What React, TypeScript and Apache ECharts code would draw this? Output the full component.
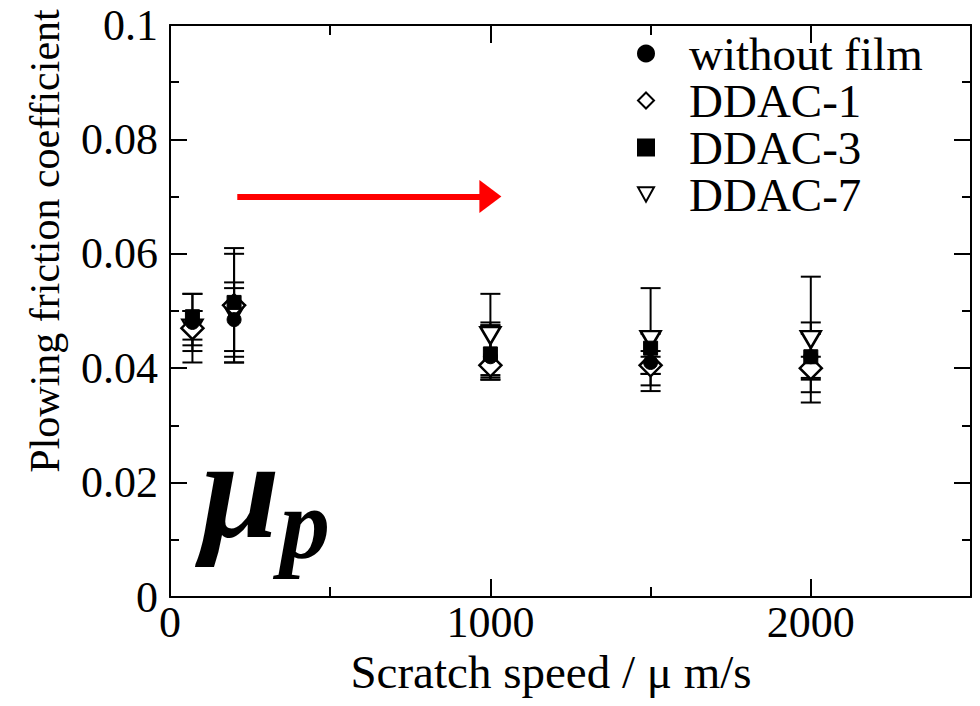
import React, { useEffect, useRef } from "react";
import * as echarts from "echarts";

const FONT = "'Liberation Serif', 'Times New Roman', serif";

// Scratch speed (µm/s)
const speeds = [70, 200, 1000, 1500, 2000];

// without film
const withoutFilm = [0.048, 0.0485, 0.042, 0.041, 0.042];
const withoutFilmLow = [0.043, 0.041, 0.038, 0.039, 0.038];
const withoutFilmHigh = [0.053, 0.055, 0.048, 0.043, 0.046];

// DDAC-1
const ddac1 = [0.047, 0.051, 0.0405, 0.0405, 0.04];
const ddac1Low = [0.044, 0.042, 0.0384, 0.039, 0.0383];
const ddac1High = [0.05, 0.06, 0.0475, 0.042, 0.042];

// DDAC-3
const ddac3 = [0.049, 0.0515, 0.0425, 0.0435, 0.042];
const ddac3Low = [0.045, 0.043, 0.038, 0.036, 0.0358];
const ddac3High = [0.053, 0.061, 0.0475, 0.046, 0.048];

// DDAC-7
const ddac7 = [0.047, 0.0495, 0.0457, 0.045, 0.045];
const ddac7Low = [0.041, 0.041, 0.0388, 0.037, 0.034];
const ddac7High = [0.05, 0.054, 0.053, 0.054, 0.056];

const legendNames = ["without film", "DDAC-1", "DDAC-3", "DDAC-7"];

// red arrow annotation (data coords)
const arrowStart = 210;
const arrowEnd = 1000;
const arrowY = 0.07;

const DOWN_TRIANGLE = "path://M0,0L20,0L10,18Z";

const pts = (v: number[]) => speeds.map((x, i) => [x, v[i]]);
const errs = (lo: number[], hi: number[]) => speeds.map((x, i) => [x, lo[i], hi[i]]);

const errSeries = (name: string, lo: number[], hi: number[]) => ({
  type: "custom",
  name,
  data: errs(lo, hi),
  encode: { x: 0, y: [1, 2] },
  z: 1,
  silent: true,
  renderItem: (_p: any, api: any) => {
    const x = api.value(0);
    const a = api.coord([x, api.value(2)]);
    const b = api.coord([x, api.value(1)]);
    const w = 10;
    const st = { stroke: "#000", lineWidth: 2 };
    return {
      type: "group",
      children: [
        { type: "line", shape: { x1: a[0], y1: a[1], x2: b[0], y2: b[1] }, style: st },
        { type: "line", shape: { x1: a[0] - w, y1: a[1], x2: a[0] + w, y2: a[1] }, style: st },
        { type: "line", shape: { x1: b[0] - w, y1: b[1], x2: b[0] + w, y2: b[1] }, style: st },
      ],
    };
  },
});

const xBase = (position: string, interval: number, len: number, labels: boolean, showLine: boolean) => ({
  type: "value",
  gridIndex: 0,
  position,
  min: 0,
  max: 2500,
  interval,
  axisLine: { show: showLine, onZero: false, lineStyle: { color: "#000", width: 2 } },
  axisTick: { show: true, inside: true, length: len, lineStyle: { color: "#000", width: 2 } },
  axisLabel: {
    show: labels,
    color: "#000",
    fontFamily: FONT,
    fontSize: 44,
    margin: 3,
    formatter: (v: number) => (v % 1000 === 0 ? String(v) : ""),
  },
  splitLine: { show: false },
});

const yBase = (position: string, labels: boolean) => ({
  type: "value",
  position,
  min: 0,
  max: 0.1,
  interval: 0.02,
  axisLine: { show: true, onZero: false, lineStyle: { color: "#000", width: 2 } },
  axisTick: { show: true, inside: true, length: 17, lineStyle: { color: "#000", width: 2 } },
  minorTick: { show: true, splitNumber: 2, length: 9, lineStyle: { color: "#000", width: 2 } },
  axisLabel: { show: labels, color: "#000", fontFamily: FONT, fontSize: 44, margin: 12 },
  splitLine: { show: false },
});

export default function App() {
  const ref = useRef<HTMLDivElement>(null);
  useEffect(() => {
    if (!ref.current) return;
    const chart = echarts.init(ref.current, null, { renderer: "svg" });
    const xMain: any = {
      ...xBase("bottom", 1000, 18, true, true),
      name: "Scratch speed / \u03BC m/s",
      nameLocation: "middle",
      nameGap: 39,
      nameTextStyle: { color: "#000", fontFamily: FONT, fontSize: 47, padding: [0, 39, 0, 0] },
    };
    const yMain: any = {
      ...yBase("left", true),
      name: "Plowing friction coefficient",
      nameLocation: "middle",
      nameGap: 104,
      nameTextStyle: { color: "#000", fontFamily: FONT, fontSize: 42, padding: [0, 0, 0, 140] },
    };
    const minorTickBottom = { ...xBase("bottom", 500, 10, false, false) };
    const majorTop = { ...xBase("top", 1000, 18, false, true) };
    const minorTop = { ...xBase("top", 500, 10, false, false) };

    chart.setOption({
      animation: false,
      backgroundColor: "#fff",
      grid: { left: 170, right: 9, top: 25, bottom: 109, containLabel: false },
      xAxis: [xMain, minorTickBottom, majorTop, minorTop],
      yAxis: [yMain, yBase("right", false)],
      legend: {
        data: legendNames,
        orient: "vertical",
        left: 632,
        top: 25,
        itemWidth: 16,
        itemHeight: 16,
        itemGap: 0,
        selectedMode: false,
        textStyle: { color: "#000", fontFamily: FONT, fontSize: 47, padding: [0, 0, 0, 30] },
      },
      graphic: [
        {
          type: "text",
          left: 201,
          top: 418,
          z: 10,
          style: {
            text: "{m|\u03BC}{p|p}",
            fill: "#000",
            rich: {
              m: {
                fontFamily: FONT,
                fontStyle: "italic",
                fontWeight: "bold",
                fontSize: 142,
                verticalAlign: "bottom",
                padding: [0, 0, 14, 0],
              },
              p: {
                fontFamily: FONT,
                fontStyle: "italic",
                fontWeight: "bold",
                fontSize: 100,
                verticalAlign: "bottom",
              },
            },
          },
        },
      ],
      series: [
        errSeries("err-wf", withoutFilmLow, withoutFilmHigh),
        errSeries("err-1", ddac1Low, ddac1High),
        errSeries("err-3", ddac3Low, ddac3High),
        errSeries("err-7", ddac7Low, ddac7High),
        {
          type: "scatter",
          name: "DDAC-7",
          data: pts(ddac7),
          symbol: DOWN_TRIANGLE,
          symbolSize: [20, 17],
          itemStyle: { color: "#fff", borderColor: "#000", borderWidth: 2.5, opacity: 1 },
          z: 3,
        },
        {
          type: "scatter",
          name: "DDAC-1",
          data: pts(ddac1),
          symbol: "diamond",
          symbolSize: 22,
          itemStyle: { color: "#fff", borderColor: "#000", borderWidth: 2.5, opacity: 1 },
          z: 4,
        },
        {
          type: "scatter",
          name: "DDAC-3",
          data: pts(ddac3),
          symbol: "rect",
          symbolSize: 14,
          itemStyle: { color: "#000", borderColor: "#000", borderWidth: 1, opacity: 1 },
          z: 5,
        },
        {
          type: "scatter",
          name: "without film",
          data: pts(withoutFilm),
          symbol: "circle",
          symbolSize: 14,
          itemStyle: { color: "#000", borderColor: "#000", borderWidth: 1, opacity: 1 },
          z: 6,
          markLine: {
            silent: true,
            symbol: ["none", "triangle"],
            symbolSize: [33, 22],
            label: { show: false },
            lineStyle: { color: "#ff0000", width: 6, type: "solid", opacity: 1 },
            data: [[{ coord: [arrowStart, arrowY] }, { coord: [arrowEnd, arrowY] }]],
          },
        },
      ],
    });
    return () => chart.dispose();
  }, []);
  return (
    <div
      ref={ref}
      style={{ position: "fixed", left: 0, top: 0, width: 980, height: 706, background: "#fff" }}
    />
  );
}
